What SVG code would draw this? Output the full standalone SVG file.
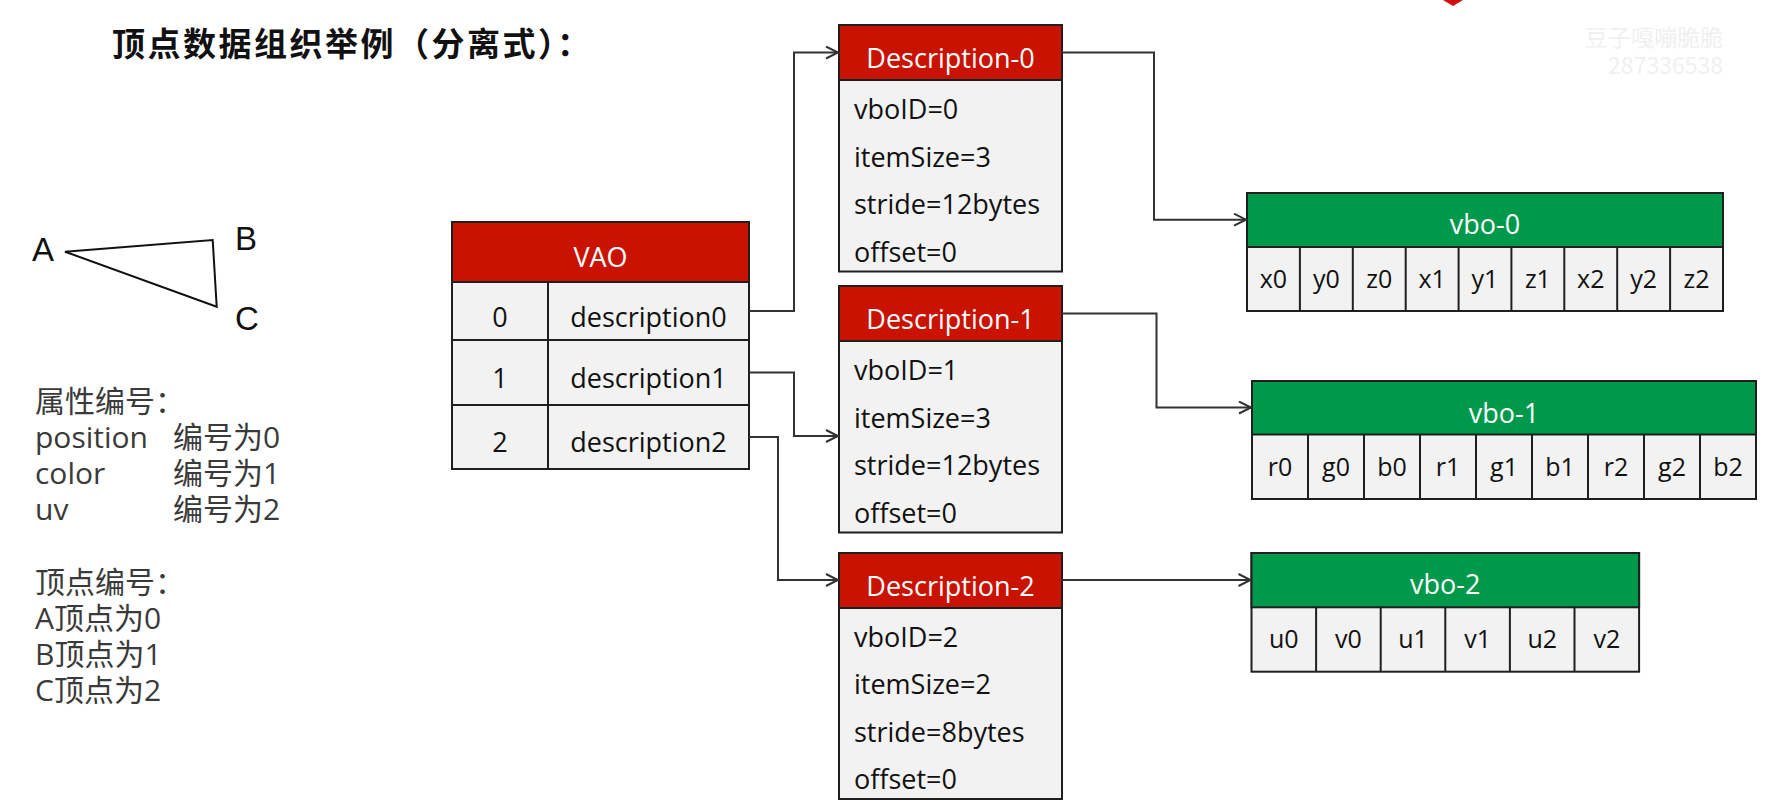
<svg xmlns="http://www.w3.org/2000/svg" width="1765" height="804" viewBox="0 0 1765 804">
<defs>
<style>
.hdr{stroke:#1f1f1f;stroke-width:2}
.red{fill:#CA1200}
.grn{fill:#00994C}
.body{fill:#F2F2F2;stroke:#1f1f1f;stroke-width:2}
.ln{stroke:#1f1f1f;stroke-width:2;fill:none}
.t{font-family:"Open Sans","Noto Sans CJK SC",sans-serif;font-size:27px;fill:#111}
.th{font-family:"Open Sans","Noto Sans CJK SC",sans-serif;font-size:27px;fill:#fff;text-anchor:middle}
.tc{text-anchor:middle}
.cell{font-family:"Open Sans","Noto Sans CJK SC",sans-serif;font-size:25px;fill:#111;text-anchor:middle}
.left{font-family:"Open Sans","Noto Sans CJK SC",sans-serif;font-size:30px;fill:#3a3a3a}
.lbl{font-family:"Liberation Sans",Arial,sans-serif;font-size:33px;fill:#111}
.conn{stroke:#333;stroke-width:2;fill:none;marker-end:url(#arr)}
</style>
<marker id="arr" markerWidth="16" markerHeight="16" refX="13" refY="7" orient="auto" markerUnits="userSpaceOnUse">
<path d="M1,1 L13,7 L1,13" fill="none" stroke="#333" stroke-width="2"/>
</marker>
</defs>
<rect width="1765" height="804" fill="#ffffff"/>
<polygon points="1443,0 1463,0 1453,6" fill="#d01010"/>
<g id="watermark" font-family="'Noto Sans CJK SC',sans-serif" font-size="23" fill="#f0f0f0" text-anchor="end">
<text x="1723" y="46">豆子嘎嘣脆脆</text>
<text x="1723" y="74">287336538</text>
</g>
<g id="title">
<text x="112" y="56" font-family="'Noto Sans CJK SC',sans-serif" font-size="33" font-weight="bold" letter-spacing="2.5" fill="#111">顶点数据组织举例（分离式）：</text>
</g>
<g id="triangle">
<polygon points="65,251.7 212.7,240 216.7,306.7" fill="none" stroke="#111" stroke-width="2"/>
<text class="lbl" x="32" y="261">A</text>
<text class="lbl" x="235" y="250">B</text>
<text class="lbl" x="235" y="330">C</text>
</g>
<g id="legend">
<text class="left" x="35" y="412">属性编号：</text>
<text class="left" x="35" y="448" font-size="31">position</text><text class="left" x="173" y="448">编号为0</text>
<text class="left" x="35" y="484" font-size="31">color</text><text class="left" x="173" y="484">编号为1</text>
<text class="left" x="35" y="520" font-size="31">uv</text><text class="left" x="173" y="520">编号为2</text>
<text class="left" x="35" y="593">顶点编号：</text>
<text class="left" x="35" y="629">A顶点为0</text>
<text class="left" x="35" y="665">B顶点为1</text>
<text class="left" x="35" y="701">C顶点为2</text>
</g>
<g id="vao">
<rect class="body" x="452" y="222" width="297" height="247"/>
<rect class="red hdr" x="452" y="222" width="297" height="60"/>
<line class="ln" x1="452" y1="340" x2="749" y2="340"/>
<line class="ln" x1="452" y1="405" x2="749" y2="405"/>
<line class="ln" x1="548" y1="282" x2="548" y2="469"/>
<text class="th" x="600.5" y="267">VAO</text>
<text class="t tc" x="500" y="327">0</text><text class="t tc" x="648.5" y="327">description0</text>
<text class="t tc" x="500" y="388">1</text><text class="t tc" x="648.5" y="388">description1</text>
<text class="t tc" x="500" y="452">2</text><text class="t tc" x="648.5" y="452">description2</text>
</g>
<g id="desc0">
<rect class="body" x="839" y="25" width="223" height="246.5"/>
<rect class="red hdr" x="839" y="25" width="223" height="55"/>
<text class="th" x="950.5" y="68.3">Description-0</text>
<text class="t" x="854" y="119.3">vboID=0</text>
<text class="t" x="854" y="166.7">itemSize=3</text>
<text class="t" x="854" y="214">stride=12bytes</text>
<text class="t" x="854" y="261.7">offset=0</text>
</g>
<g id="desc1">
<rect class="body" x="839" y="286" width="223" height="246.5"/>
<rect class="red hdr" x="839" y="286" width="223" height="55"/>
<text class="th" x="950.5" y="329.3">Description-1</text>
<text class="t" x="854" y="380.3">vboID=1</text>
<text class="t" x="854" y="427.7">itemSize=3</text>
<text class="t" x="854" y="475">stride=12bytes</text>
<text class="t" x="854" y="522.7">offset=0</text>
</g>
<g id="desc2">
<rect class="body" x="839" y="553" width="223" height="246"/>
<rect class="red hdr" x="839" y="553" width="223" height="55"/>
<text class="th" x="950.5" y="596">Description-2</text>
<text class="t" x="854" y="647">vboID=2</text>
<text class="t" x="854" y="694.4">itemSize=2</text>
<text class="t" x="854" y="741.7">stride=8bytes</text>
<text class="t" x="854" y="789.4">offset=0</text>
</g>
<g id="vbo0">
<rect class="body" x="1247" y="193" width="476" height="118"/>
<rect class="grn hdr" x="1247" y="193" width="476" height="54"/>
<g class="ln">
<line x1="1299.9" y1="247" x2="1299.9" y2="311"/><line x1="1352.8" y1="247" x2="1352.8" y2="311"/><line x1="1405.7" y1="247" x2="1405.7" y2="311"/><line x1="1458.6" y1="247" x2="1458.6" y2="311"/><line x1="1511.4" y1="247" x2="1511.4" y2="311"/><line x1="1564.3" y1="247" x2="1564.3" y2="311"/><line x1="1617.2" y1="247" x2="1617.2" y2="311"/><line x1="1670.1" y1="247" x2="1670.1" y2="311"/>
</g>
<text class="th" x="1485" y="233.5">vbo-0</text>
<text class="cell" x="1273.4" y="287.5">x0</text><text class="cell" x="1326.3" y="287.5">y0</text><text class="cell" x="1379.2" y="287.5">z0</text><text class="cell" x="1432.1" y="287.5">x1</text><text class="cell" x="1485" y="287.5">y1</text><text class="cell" x="1537.9" y="287.5">z1</text><text class="cell" x="1590.8" y="287.5">x2</text><text class="cell" x="1643.7" y="287.5">y2</text><text class="cell" x="1696.6" y="287.5">z2</text>
</g>
<g id="vbo1">
<rect class="body" x="1252" y="381" width="504" height="118"/>
<rect class="grn hdr" x="1252" y="381" width="504" height="53.5"/>
<g class="ln">
<line x1="1308" y1="434.5" x2="1308" y2="499"/><line x1="1364" y1="434.5" x2="1364" y2="499"/><line x1="1420" y1="434.5" x2="1420" y2="499"/><line x1="1476" y1="434.5" x2="1476" y2="499"/><line x1="1532" y1="434.5" x2="1532" y2="499"/><line x1="1588" y1="434.5" x2="1588" y2="499"/><line x1="1644" y1="434.5" x2="1644" y2="499"/><line x1="1700" y1="434.5" x2="1700" y2="499"/>
</g>
<text class="th" x="1504" y="423.3">vbo-1</text>
<text class="cell" x="1280" y="476">r0</text><text class="cell" x="1336" y="476">g0</text><text class="cell" x="1392" y="476">b0</text><text class="cell" x="1448" y="476">r1</text><text class="cell" x="1504" y="476">g1</text><text class="cell" x="1560" y="476">b1</text><text class="cell" x="1616" y="476">r2</text><text class="cell" x="1672" y="476">g2</text><text class="cell" x="1728" y="476">b2</text>
</g>
<g id="vbo2">
<rect class="body" x="1251.5" y="553" width="387.6" height="118.7"/>
<rect class="grn hdr" x="1251.5" y="553" width="387.6" height="54.3"/>
<g class="ln">
<line x1="1316.1" y1="607.3" x2="1316.1" y2="671.7"/><line x1="1380.7" y1="607.3" x2="1380.7" y2="671.7"/><line x1="1445.3" y1="607.3" x2="1445.3" y2="671.7"/><line x1="1509.9" y1="607.3" x2="1509.9" y2="671.7"/><line x1="1574.5" y1="607.3" x2="1574.5" y2="671.7"/>
</g>
<text class="th" x="1445.3" y="593.5">vbo-2</text>
<text class="cell" x="1283.8" y="648">u0</text><text class="cell" x="1348.4" y="648">v0</text><text class="cell" x="1413" y="648">u1</text><text class="cell" x="1477.6" y="648">v1</text><text class="cell" x="1542.2" y="648">u2</text><text class="cell" x="1606.8" y="648">v2</text>
</g>
<g id="connectors">
<path class="conn" d="M749,311 H794 V52.5 H838"/>
<path class="conn" d="M749,372.5 H794 V436 H838"/>
<path class="conn" d="M749,437 H778 V580 H838"/>
<path class="conn" d="M1062,52.5 H1154 V219.7 H1246"/>
<path class="conn" d="M1062,313.5 H1156.5 V407.5 H1251"/>
<path class="conn" d="M1062,580 H1250.5"/>
</g>
</svg>
